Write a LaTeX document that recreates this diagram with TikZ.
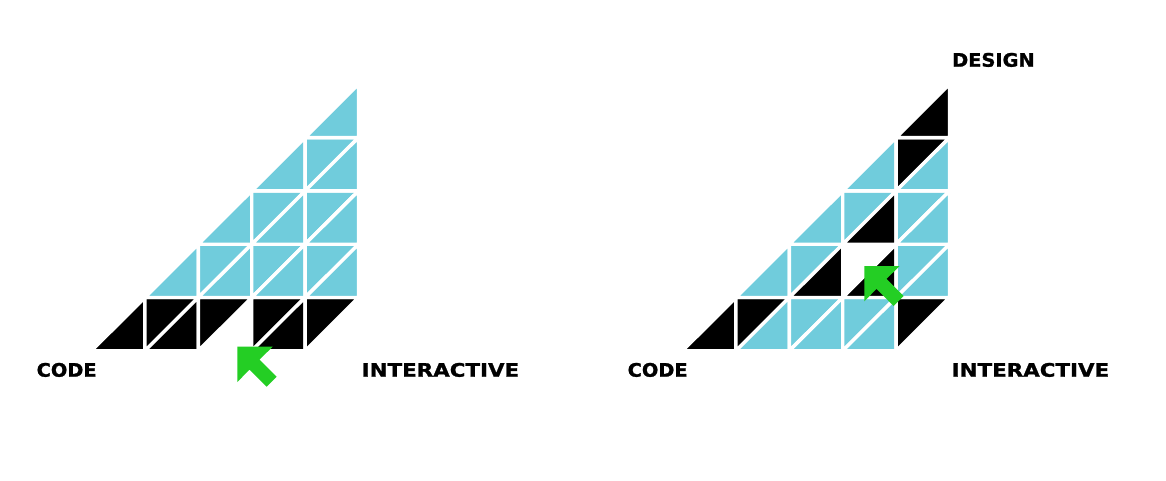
\documentclass[tikz,border=0pt]{standalone}
\usepackage{fontspec}
\newfontfamily\labfont[FakeStretch=1.04,FakeBold=1.2]{DejaVu Sans}
\newfontfamily\labwidefont[FakeStretch=1.15,FakeBold=1.2]{DejaVu Sans}
\definecolor{cellblue}{RGB}{112,204,220}
\definecolor{arrowgreen}{RGB}{36,206,36}
\tikzset{
  cell/.style={draw=white, line width=3.4pt, line join=round},
  lab/.style={anchor=base west, inner sep=0pt, font=\labfont\bfseries\fontsize{18.6}{20}\selectfont},
  labwide/.style={anchor=base west, inner sep=0pt, font=\labwidefont\bfseries\fontsize{18.6}{20}\selectfont},
  arrowshape/.style={fill=arrowgreen}
}
% lower-right triangle: #1 x offset, #2 col, #3 row, #4 colour
\newcommand\lrtri[4]{\fill[cell,fill=#4] ({#1+91.5+53.4*#2},{350.8-53.3*#3}) -- ++(53.4,0) -- ++(0,-53.3) -- cycle;}
% upper-left triangle
\newcommand\ultri[4]{\fill[cell,fill=#4] ({#1+91.5+53.4*#2},{350.8-53.3*#3}) -- ++(0,-53.3) -- ++(53.4,0) -- cycle;}
\newcommand\greenarrow[2]{\fill[arrowshape,shift={(#1,#2)}] (0,0) -- (35.4,0) -- (22.2,12.8) -- (39.4,30) -- (29.4,40) -- (12.2,22.8) -- (0,35.4) -- cycle;}
\begin{document}
\begin{tikzpicture}[x=1pt,y=-1pt]
\useasboundingbox[fill=white] (0,0) rectangle (1166,480);
% ---------- left diagram ----------
\lrtri{0}{0}{0}{black}
\ultri{0}{1}{0}{black}\lrtri{0}{1}{0}{black}
\ultri{0}{2}{0}{black}
\ultri{0}{3}{0}{black}\lrtri{0}{3}{0}{black}
\ultri{0}{4}{0}{black}
\lrtri{0}{1}{1}{cellblue}
\ultri{0}{2}{1}{cellblue}\lrtri{0}{2}{1}{cellblue}
\ultri{0}{3}{1}{cellblue}\lrtri{0}{3}{1}{cellblue}
\ultri{0}{4}{1}{cellblue}\lrtri{0}{4}{1}{cellblue}
\lrtri{0}{2}{2}{cellblue}
\ultri{0}{3}{2}{cellblue}\lrtri{0}{3}{2}{cellblue}
\ultri{0}{4}{2}{cellblue}\lrtri{0}{4}{2}{cellblue}
\lrtri{0}{3}{3}{cellblue}
\ultri{0}{4}{3}{cellblue}\lrtri{0}{4}{3}{cellblue}
\lrtri{0}{4}{4}{cellblue}
\greenarrow{237.3}{346.7}
\node[lab] (code1) at (36.5,376.7) {CODE};
\node[labwide] (inter1) at (361.5,376.7) {INTERACTIVE};
% ---------- right diagram ----------
\def\ox{591}
\lrtri{\ox}{0}{0}{black}
\ultri{\ox}{1}{0}{black}\lrtri{\ox}{1}{0}{cellblue}
\ultri{\ox}{2}{0}{cellblue}\lrtri{\ox}{2}{0}{cellblue}
\ultri{\ox}{3}{0}{cellblue}\lrtri{\ox}{3}{0}{cellblue}
\ultri{\ox}{4}{0}{black}
\lrtri{\ox}{1}{1}{cellblue}
\ultri{\ox}{2}{1}{cellblue}\lrtri{\ox}{2}{1}{black}
\lrtri{\ox}{3}{1}{black}
\ultri{\ox}{4}{1}{cellblue}\lrtri{\ox}{4}{1}{cellblue}
\lrtri{\ox}{2}{2}{cellblue}
\ultri{\ox}{3}{2}{cellblue}\lrtri{\ox}{3}{2}{black}
\ultri{\ox}{4}{2}{cellblue}\lrtri{\ox}{4}{2}{cellblue}
\lrtri{\ox}{3}{3}{cellblue}
\ultri{\ox}{4}{3}{black}\lrtri{\ox}{4}{3}{cellblue}
\lrtri{\ox}{4}{4}{black}
\greenarrow{864.3}{266}
\node[lab] (code2) at (627.5,376.7) {CODE};
\node[labwide] (inter2) at (951.5,376.7) {INTERACTIVE};
\node[lab] (design) at (952,66.7) {DESIGN};
\end{tikzpicture}
\end{document}
